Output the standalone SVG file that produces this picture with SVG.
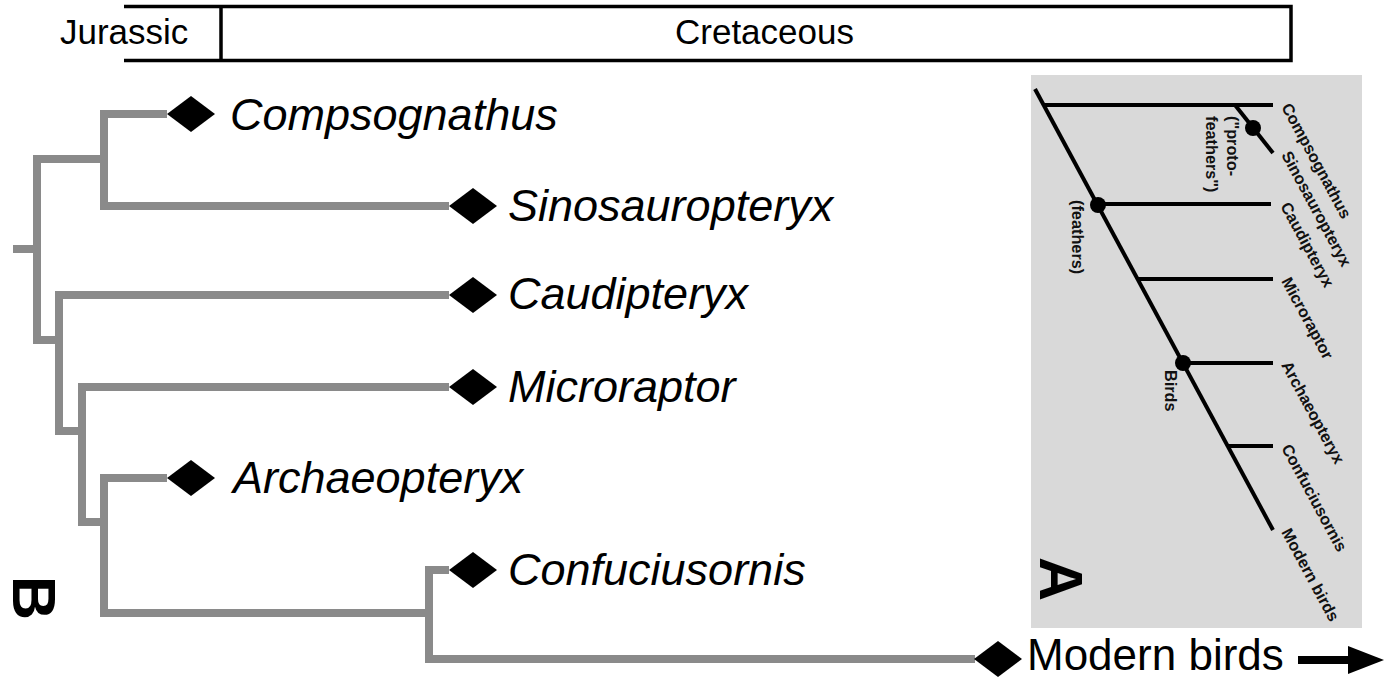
<svg xmlns="http://www.w3.org/2000/svg" width="1385" height="679" viewBox="0 0 1385 679">
<style>
.period{font-family:"Liberation Sans",Arial,sans-serif;font-size:35px;fill:#000}
.sp{font-family:"Liberation Sans",Arial,sans-serif;font-size:45px;font-style:italic;fill:#000}
.mb{font-family:"Liberation Sans",Arial,sans-serif;font-size:44px;fill:#000}
.br{fill:none;stroke:#8a8a8a;stroke-width:8;stroke-linejoin:miter;stroke-linecap:butt}
.dia{fill:#000}
.al{fill:none;stroke:#000;stroke-width:4}
.lab{font-family:"Liberation Sans",Arial,sans-serif;font-size:16.3px;font-weight:bold;fill:#111}
.big{font-family:"Liberation Sans",Arial,sans-serif;font-size:61px;font-weight:bold;fill:#000}
</style>
<defs>
<polygon id="d" points="-24,0 0,-18 24,0 0,18"/>
</defs>
<rect width="1385" height="679" fill="#fff"/>
<g id="timeline">
<path d="M124,6.5 H1291 V60.5 H124 M221,6.5 V60.5" fill="none" stroke="#000" stroke-width="3.5"/>
<text class="period" x="60" y="44">Jurassic</text>
<text class="period" x="675" y="44">Cretaceous</text>
</g>
<g id="connectors">
<path class="br" d="M13,249 H37"/>
<path class="br" d="M104,159 H37 V340 H59"/>
<path class="br" d="M167,114 H104 V206 H449"/>
<path class="br" d="M449,295 H59 V431 H82"/>
<path class="br" d="M449,387 H82 V522 H104"/>
<path class="br" d="M167,478 H104 V613 H429"/>
<path class="br" d="M449,570 H429 V659 H975"/>
<path d="M1298,660 H1352" stroke="#000" stroke-width="8"/>
<polygon points="1348,646 1384,660 1348,674" fill="#000"/>
</g>
<g id="n-compsognathus"><use href="#d" class="dia" x="191" y="114"/><text class="sp" x="230" y="130">Compsognathus</text></g>
<g id="n-sinosauropteryx"><use href="#d" class="dia" x="473" y="206"/><text class="sp" x="508" y="221">Sinosauropteryx</text></g>
<g id="n-caudipteryx"><use href="#d" class="dia" x="473" y="295"/><text class="sp" x="508" y="309">Caudipteryx</text></g>
<g id="n-microraptor"><use href="#d" class="dia" x="473" y="387"/><text class="sp" x="508" y="402">Microraptor</text></g>
<g id="n-archaeopteryx"><use href="#d" class="dia" x="191" y="478"/><text class="sp" x="233" y="493">Archaeopteryx</text></g>
<g id="n-confuciusornis"><use href="#d" class="dia" x="473" y="570"/><text class="sp" x="508" y="585">Confuciusornis</text></g>
<g id="n-modernbirds"><use href="#d" class="dia" x="998" y="659"/><text class="mb" x="1027" y="670">Modern birds</text></g>
<g id="label-B"><text class="big" transform="translate(13,576) rotate(90)">B</text></g>
<g id="panelA">
<rect x="1031" y="75" width="331" height="553" fill="#d9d9d9"/>
<g id="panelA-lines">
<path class="al" d="M1035,89 L1273,530"/>
<path class="al" d="M1044,105 H1273"/>
<path class="al" d="M1235,105 L1273,153"/>
<path class="al" d="M1098,204 H1271"/>
<path class="al" d="M1137,279 H1273"/>
<path class="al" d="M1183,363 H1273"/>
<path class="al" d="M1228,446 H1273"/>
<circle cx="1253" cy="128" r="8"/>
<circle cx="1098" cy="205" r="8"/>
<circle cx="1183" cy="363" r="8"/>
</g>
<text class="lab" transform="translate(1281,107) rotate(61.6)">Compsognathus</text>
<text class="lab" transform="translate(1281,155) rotate(61.6)">Sinosauropteryx</text>
<text class="lab" transform="translate(1280,206) rotate(61.6)">Caudipteryx</text>
<text class="lab" transform="translate(1281,281) rotate(61.6)">Microraptor</text>
<text class="lab" transform="translate(1281,365) rotate(61.6)">Archaeopteryx</text>
<text class="lab" transform="translate(1281,448) rotate(61.6)">Confuciusornis</text>
<text class="lab" transform="translate(1281,532) rotate(61.6)">Modern birds</text>
<text class="lab" transform="translate(1227,116) rotate(90)">("proto-</text>
<text class="lab" transform="translate(1206,116) rotate(90)">feathers")</text>
<text class="lab" transform="translate(1072,200) rotate(90)">(feathers)</text>
<text class="lab" transform="translate(1165,370) rotate(90)">Birds</text>
<text class="big" transform="translate(1040,557) rotate(90)">A</text>
</g>
</svg>
